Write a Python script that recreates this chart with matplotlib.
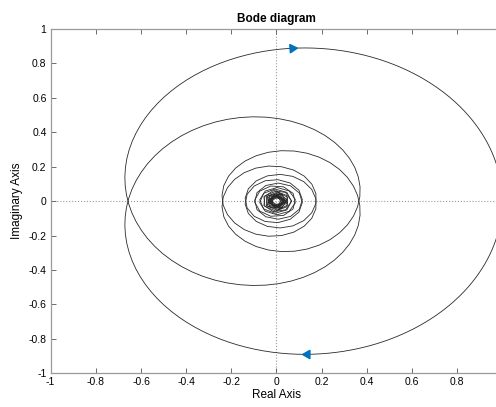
import matplotlib
matplotlib.use("Agg")
import matplotlib.pyplot as plt
from matplotlib.ticker import FormatStrFormatter
import numpy as np

# system: G(s) = K * exp(-delay*s) / (tau*s + 1)
gain = 1.0
tau = 1.0
delay = 2.0
w_decades = [-2, 1.55]
n_points = 285
arrow_w_lower = 0.485  # frequency where the arrow sits on the w>0 branch
arrow_w_upper = 0.51   # and on the mirrored w<0 branch

xticks = [-1, -0.8, -0.6, -0.4, -0.2, 0, 0.2, 0.4, 0.6, 0.8]
yticks = [-1, -0.8, -0.6, -0.4, -0.2, 0, 0.2, 0.4, 0.6, 0.8, 1]


def freq_resp(w):
    s = 1j * w
    return gain * np.exp(-delay * s) / (tau * s + 1)


w = np.logspace(w_decades[0], w_decades[1], n_points)
g = freq_resp(w)

plt.rcParams["font.family"] = ["Liberation Sans", "DejaVu Sans"]

fig = plt.figure(figsize=(4.96, 4.07), dpi=100)
ax = fig.add_axes([0.1022, 0.0828, 0.9105, 0.846])

line_kw = dict(color="#2a2a2a", linewidth=0.6)
ax.plot(g.real, g.imag, **line_kw)
ax.plot(g.real, -g.imag, **line_kw)

ax.axhline(0, color="#9a9a9a", linestyle=":", linewidth=0.8, zorder=0)
ax.axvline(0, color="#9a9a9a", linestyle=":", linewidth=0.8, zorder=0)

# direction arrows: w>0 branch runs clockwise, mirrored branch ends at w=0
blue = "#0072BD"
for wa, sign in [(arrow_w_lower, 1), (arrow_w_upper, -1)]:
    p = freq_resp(wa)
    dp = freq_resp(wa * 1.01) - p
    if sign == 1:
        px, py, dx, dy = p.real, p.imag, dp.real, dp.imag
    else:
        px, py, dx, dy = p.real, -p.imag, -dp.real, dp.imag
    ang = np.degrees(np.arctan2(dy, dx))
    ax.plot(px, py, marker=(3, 0, ang - 90), markersize=7,
            color=blue, markeredgecolor=blue, zorder=5)

ax.set_xlim(-1, 1)
ax.set_ylim(-1, 1)
ax.set_xticks(xticks)
ax.set_yticks(yticks)
ax.xaxis.set_major_formatter(FormatStrFormatter("%g"))
ax.yaxis.set_major_formatter(FormatStrFormatter("%g"))
ax.tick_params(direction="in", length=3.5, width=0.6, labelsize=7.5,
               top=True, right=True, color="#555555", pad=3)
for sp in ax.spines.values():
    sp.set_color("#9a9a9a")
    sp.set_linewidth(0.9)

ax.set_xlabel("Real Axis", fontsize=8.5, labelpad=1)
ax.set_ylabel("Imaginary Axis", fontsize=8.5, labelpad=4)
ax.set_title("Bode diagram", fontsize=8.5, fontweight="bold", pad=5)

fig.savefig("out.png", dpi=100)
